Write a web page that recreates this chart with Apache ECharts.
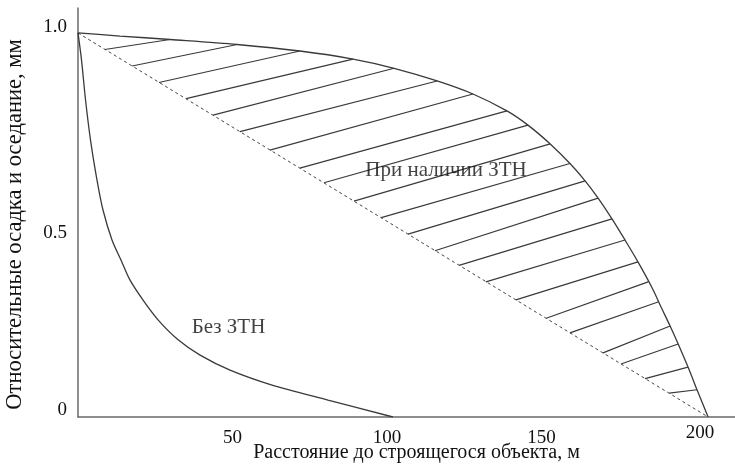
<!DOCTYPE html>
<html>
<head>
<meta charset="utf-8">
<script src="https://cdn.jsdelivr.net/npm/echarts@6/dist/echarts.min.js"></script>
<style>html,body{margin:0;padding:0;background:#fff}#c{width:735px;height:467px}</style>
</head>
<body>
<div id="c"></div>
<script>
// Upper curve "При наличии ЗТН" (distance, relative settlement)
const withZTN = [[0,1.0],[13.6,0.992],[29.8,0.983],[51.5,0.970],[71.8,0.953],[89.0,0.932],[102.3,0.908],[116.2,0.875],[127.8,0.841],[138.8,0.797],[145.6,0.760],[152.8,0.711],[159.2,0.660],[164.1,0.615],[168.3,0.570],[172.8,0.516],[177.0,0.461],[181.2,0.404],[185.8,0.336],[188.7,0.286],[191.6,0.237],[194.5,0.185],[197.4,0.130],[200.6,0.065],[203.9,0]];
// Lower curve "Без ЗТН"
const withoutZTN = [[0,1.0],[1.13,0.930],[2.43,0.826],[4.05,0.721],[6.15,0.617],[8.09,0.539],[11.0,0.461],[13.9,0.409],[16.8,0.357],[21.0,0.305],[25.9,0.253],[32.4,0.201],[39.5,0.161],[49.2,0.122],[62.8,0.083],[80.9,0.044],[101.9,0]];
// Dashed straight reference line
const straightLine = [[0,1.0],[203.9,0]];
// Hatching segments: [x1, y1, x2, y2]
const hatch = [
 [8.7,0.957,29.8,0.983],[17.5,0.914,51.5,0.970],[26.2,0.871,71.8,0.953],[35.0,0.829,89.0,0.932],
 [43.7,0.786,102.3,0.908],[52.4,0.743,116.2,0.875],[62.1,0.695,127.8,0.841],[71.8,0.648,138.8,0.797],
 [79.6,0.610,145.6,0.760],[89.3,0.562,152.8,0.711],[98.1,0.519,159.2,0.660],[106.8,0.476,164.1,0.615],
 [115.5,0.433,168.3,0.570],[123.3,0.395,172.8,0.516],[132.0,0.352,177.0,0.461],[141.7,0.305,181.2,0.404],
 [151.5,0.257,184.5,0.352],[159.2,0.219,187.9,0.30],[169.9,0.167,191.6,0.237],[175.7,0.138,194.2,0.19],
 [183.5,0.10,197.4,0.13],[191.3,0.062,200.3,0.071]
];
// Annotations
const annotations = [
 {name:'При наличии ЗТН', value:[119.1,0.643]},
 {name:'Без ЗТН', value:[48.7,0.232]}
];
const xTicks = [50,100,150,200];
const yTicks = [0,0.5,1.0];
const xTitle = 'Расстояние до строящегося объекта, м';
const yTitle = 'Относительные осадка и оседание, мм';

const FONT = '"Liberation Serif", "DejaVu Serif", serif';
const chart = echarts.init(document.getElementById('c'), null, {renderer:'canvas'});
const lineCol = '#3a3a3a';
const tickTxt = {fontFamily:FONT, fontSize:19, color:'#111'};
chart.setOption({
  animation:false,
  backgroundColor:'#fff',
  grid:{left:78, right:0, top:8, bottom:50, containLabel:false, outerBoundsMode:'none'},
  xAxis:{
    type:'value', min:0, max:212.6, interval:50,
    name:xTitle, nameLocation:'middle', nameGap:26, nameMoveOverlap:false,
    nameTextStyle:{fontFamily:FONT, fontSize:20, color:'#111', padding:[0,0,0,20]},
    axisLine:{onZero:false, lineStyle:{color:'#6a6a6a', width:1.5}},
    axisTick:{show:false}, splitLine:{show:false},
    axisLabel:{
      customValues:xTicks,
      margin:12, fontFamily:FONT, fontSize:19, color:'#111',
      formatter:function(v){ return v===200 ? '{r|200}' : String(v); },
      rich:{r:Object.assign({lineHeight:8, padding:[0,0,0,8]}, tickTxt)}
    }
  },
  yAxis:{
    type:'value', min:0, max:1.065,
    name:yTitle, nameLocation:'middle', nameGap:51, nameRotate:90,
    nameTextStyle:{fontFamily:FONT, fontSize:22.5, color:'#111', padding:[0,24,0,0]},
    axisLine:{show:true, onZero:false, lineStyle:{color:'#6a6a6a', width:1.5}},
    axisTick:{show:false}, splitLine:{show:false},
    axisLabel:{
      customValues:yTicks, margin:11, fontFamily:FONT, fontSize:19, color:'#111',
      formatter:function(v){
        if(v===0) return '{z|0}';
        if(v===0.5) return '{h|0.5}';
        return '{o|1.0}';
      },
      rich:{
        z:Object.assign({padding:[0,0,14,0]}, tickTxt),
        h:Object.assign({padding:[16,0,0,0]}, tickTxt),
        o:Object.assign({padding:[0,0,12,0]}, tickTxt)
      }
    }
  },
  series:[
    {type:'lines', coordinateSystem:'cartesian2d', silent:true,
     lineStyle:{color:lineCol, width:1.2, opacity:1},
     data:hatch.map(h=>({coords:[[h[0],h[1]],[h[2],h[3]]]}))},
    {type:'line', data:straightLine, symbol:'none', silent:true,
     lineStyle:{color:'#444', width:1, type:[3,3]}},
    {type:'line', data:withZTN, symbol:'none', smooth:0.3, silent:true,
     lineStyle:{color:lineCol, width:1.3}},
    {type:'line', data:withoutZTN, symbol:'none', smooth:0.3, silent:true,
     lineStyle:{color:lineCol, width:1.3}},
    {type:'scatter', data:annotations, symbolSize:0, silent:true,
     label:{show:true, position:'inside', formatter:'{b}', fontFamily:FONT, fontSize:21, color:'#111'}}
  ]
});
</script>
</body>
</html>
